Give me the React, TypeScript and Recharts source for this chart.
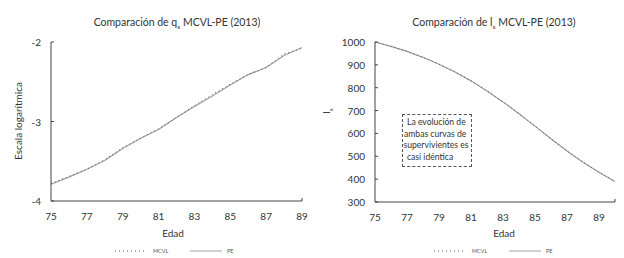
import React from 'react';
import { LineChart, Line, XAxis, YAxis } from 'recharts';

const ages = [75, 76, 77, 78, 79, 80, 81, 82, 83, 84, 85, 86, 87, 88, 89];
const qxPE = [-3.79, -3.70, -3.60, -3.49, -3.34, -3.21, -3.10, -2.95, -2.81, -2.68, -2.54, -2.41, -2.32, -2.17, -2.07];
const qxMCVL = [-3.78, -3.69, -3.60, -3.48, -3.33, -3.21, -3.09, -2.95, -2.80, -2.66, -2.53, -2.41, -2.32, -2.15, -2.08];

const agesLx = [75, 76, 77, 78, 79, 80, 81, 82, 83, 84, 85, 86, 87, 88, 89, 90];
const lxPE = [1000, 981, 959, 933, 903, 869, 830, 786, 738, 686, 632, 577, 523, 474, 430, 390];
const lxMCVL = [1000, 981, 959, 932, 903, 869, 830, 786, 738, 686, 632, 576, 523, 474, 430, 389];

const qxTicksY = [-4, -3, -2];
const qxTicksX = [75, 77, 79, 81, 83, 85, 87, 89];
const lxTicksY = [300, 400, 500, 600, 700, 800, 900, 1000];
const lxTicksX = [75, 77, 79, 81, 83, 85, 87, 89, 90];

const qxData = ages.map((a, i) => ({ age: a, pe: qxPE[i], mcvl: qxMCVL[i] }));
const lxData = agesLx.map((a, i) => ({ age: a, pe: lxPE[i], mcvl: lxMCVL[i] }));

const FONT = 'Lato, "Open Sans", sans-serif';
const AXIS = '#444';
const TXT = '#333';
const PE_COLOR = '#a0a0a0';
const MCVL_COLOR = '#555';

const YTick = (props: any) => {
  const { x, y, payload } = props;
  const ax = x + 10;
  return (
    <g>
      <line x1={ax} x2={ax + 3} y1={y} y2={y} stroke={AXIS} strokeWidth={1} />
      <text x={x} y={y} textAnchor="end" dominantBaseline="central" fontSize={10} fill={TXT} fontFamily={FONT}>
        {payload.value}
      </text>
    </g>
  );
};

const XTick = (props: any) => {
  const { x, y, payload, index, visibleTicksCount, hideLast } = props;
  const ay = y - 11;
  const last = index === visibleTicksCount - 1;
  return (
    <g>
      {last && <line x1={x} x2={x} y1={ay} y2={ay - 3} stroke={AXIS} strokeWidth={1} />}
      {!(last && hideLast) && (
        <text x={x} y={y} textAnchor="middle" dominantBaseline="hanging" fontSize={10} fill={TXT} fontFamily={FONT}>
          {payload.value}
        </text>
      )}
    </g>
  );
};

const LegendBox = ({ left }: { left: number }) => (
  <div style={{ position: 'absolute', left, top: 246, height: 10, fontFamily: FONT, fontSize: 5.5, color: '#555' }}>
    <svg width={140} height={10} style={{ position: 'absolute', left: 0, top: 0 }}>
      <line x1={0} x2={30} y1={5} y2={5} stroke={MCVL_COLOR} strokeWidth={1} strokeDasharray="1 3" />
      <text x={38} y={5} dominantBaseline="central" fontSize={5.5} fill="#555" fontFamily={FONT}>MCVL</text>
      <line x1={75} x2={107} y1={5} y2={5} stroke={PE_COLOR} strokeWidth={1} />
      <text x={112} y={5} dominantBaseline="central" fontSize={5.5} fill="#555" fontFamily={FONT}>PE</text>
    </svg>
  </div>
);

export default function App() {
  return (
    <div style={{ position: 'absolute', left: 0, top: 0, width: 624, height: 258, background: '#fff', fontFamily: FONT }}>
      {/* Left chart */}
      <div style={{ position: 'absolute', left: 0, top: 0 }}>
        <LineChart width={312} height={258} data={qxData} margin={{ top: 42, right: 10, bottom: 27, left: 11 }}>
          <XAxis
            dataKey="age"
            type="number"
            domain={[75, 89]}
            ticks={qxTicksX}
            interval={0}
            height={30}
            tickSize={0}
            tickMargin={11}
            tickLine={false}
            axisLine={{ stroke: AXIS, strokeWidth: 1 }}
            tick={<XTick />}
          />
          <YAxis
            type="number"
            domain={[-4, -2]}
            ticks={qxTicksY}
            interval={0}
            width={40}
            tickSize={0}
            tickMargin={10}
            tickLine={false}
            axisLine={{ stroke: AXIS, strokeWidth: 1 }}
            tick={<YTick />}
          />
          <Line dataKey="pe" stroke={PE_COLOR} strokeWidth={1.2} dot={false} isAnimationActive={false} />
          <Line dataKey="mcvl" stroke={MCVL_COLOR} strokeWidth={1} strokeDasharray="1 3" dot={false} isAnimationActive={false} />
        </LineChart>
      </div>
      <div style={{ position: 'absolute', left: 0, width: 354, top: 16, textAlign: 'center', fontSize: 10.5, color: TXT, whiteSpace: 'nowrap' }}>
        Comparación de q<sub style={{ fontSize: 6, verticalAlign: -3 }}>x</sub> MCVL-PE (2013)
      </div>
      <div style={{ position: 'absolute', left: 18, top: 121, transform: 'translate(-50%,-50%) rotate(-90deg)', fontSize: 10, color: TXT, whiteSpace: 'nowrap' }}>
        Escala logarítmica
      </div>
      <div style={{ position: 'absolute', left: 173, top: 233, transform: 'translate(-50%,-50%)', fontSize: 10, color: TXT }}>Edad</div>
      <LegendBox left={115} />

      {/* Right chart */}
      <div style={{ position: 'absolute', left: 312, top: 0 }}>
        <LineChart width={312} height={258} data={lxData} margin={{ top: 42, right: 9, bottom: 26, left: 23 }}>
          <XAxis
            dataKey="age"
            type="number"
            domain={[75, 90]}
            ticks={lxTicksX}
            interval={0}
            height={30}
            tickSize={0}
            tickMargin={11}
            tickLine={false}
            axisLine={{ stroke: AXIS, strokeWidth: 1 }}
            tick={<XTick hideLast />}
          />
          <YAxis
            type="number"
            domain={[300, 1000]}
            ticks={lxTicksY}
            interval={0}
            width={40}
            tickSize={0}
            tickMargin={10}
            tickLine={false}
            axisLine={{ stroke: AXIS, strokeWidth: 1 }}
            tick={<YTick />}
          />
          <Line dataKey="pe" stroke={PE_COLOR} strokeWidth={1.2} dot={false} isAnimationActive={false} />
          <Line dataKey="mcvl" stroke={MCVL_COLOR} strokeWidth={1} strokeDasharray="1 3" dot={false} isAnimationActive={false} />
        </LineChart>
      </div>
      <div style={{ position: 'absolute', left: 312, width: 364, top: 16, textAlign: 'center', fontSize: 10.5, color: TXT, whiteSpace: 'nowrap' }}>
        Comparación de l<sub style={{ fontSize: 6, verticalAlign: -3 }}>x</sub> MCVL-PE (2013)
      </div>
      <div style={{ position: 'absolute', left: 327, top: 111, transform: 'translate(-50%,-50%) rotate(-90deg)', fontSize: 10, color: TXT, whiteSpace: 'nowrap' }}>
        l<sub style={{ fontSize: 6, verticalAlign: -3 }}>x</sub>
      </div>
      <div style={{ position: 'absolute', left: 504, top: 233, transform: 'translate(-50%,-50%)', fontSize: 10, color: TXT }}>Edad</div>
      <LegendBox left={434} />

      <div
        style={{
          position: 'absolute',
          left: 402,
          top: 114,
          width: 68,
          height: 49,
          border: '1px dashed #555',
          fontSize: 8.6,
          lineHeight: '11.5px',
          color: TXT,
          paddingTop: 2,
          whiteSpace: 'nowrap',
          boxSizing: 'content-box',
        }}
      >
        <div style={{ marginLeft: 4 }}>La evolución de</div>
        <div style={{ marginLeft: 1 }}>ambas curvas de</div>
        <div style={{ marginLeft: 0.5 }}>supervivientes es</div>
        <div style={{ marginLeft: 4 }}>casi idéntica</div>
      </div>
    </div>
  );
}
